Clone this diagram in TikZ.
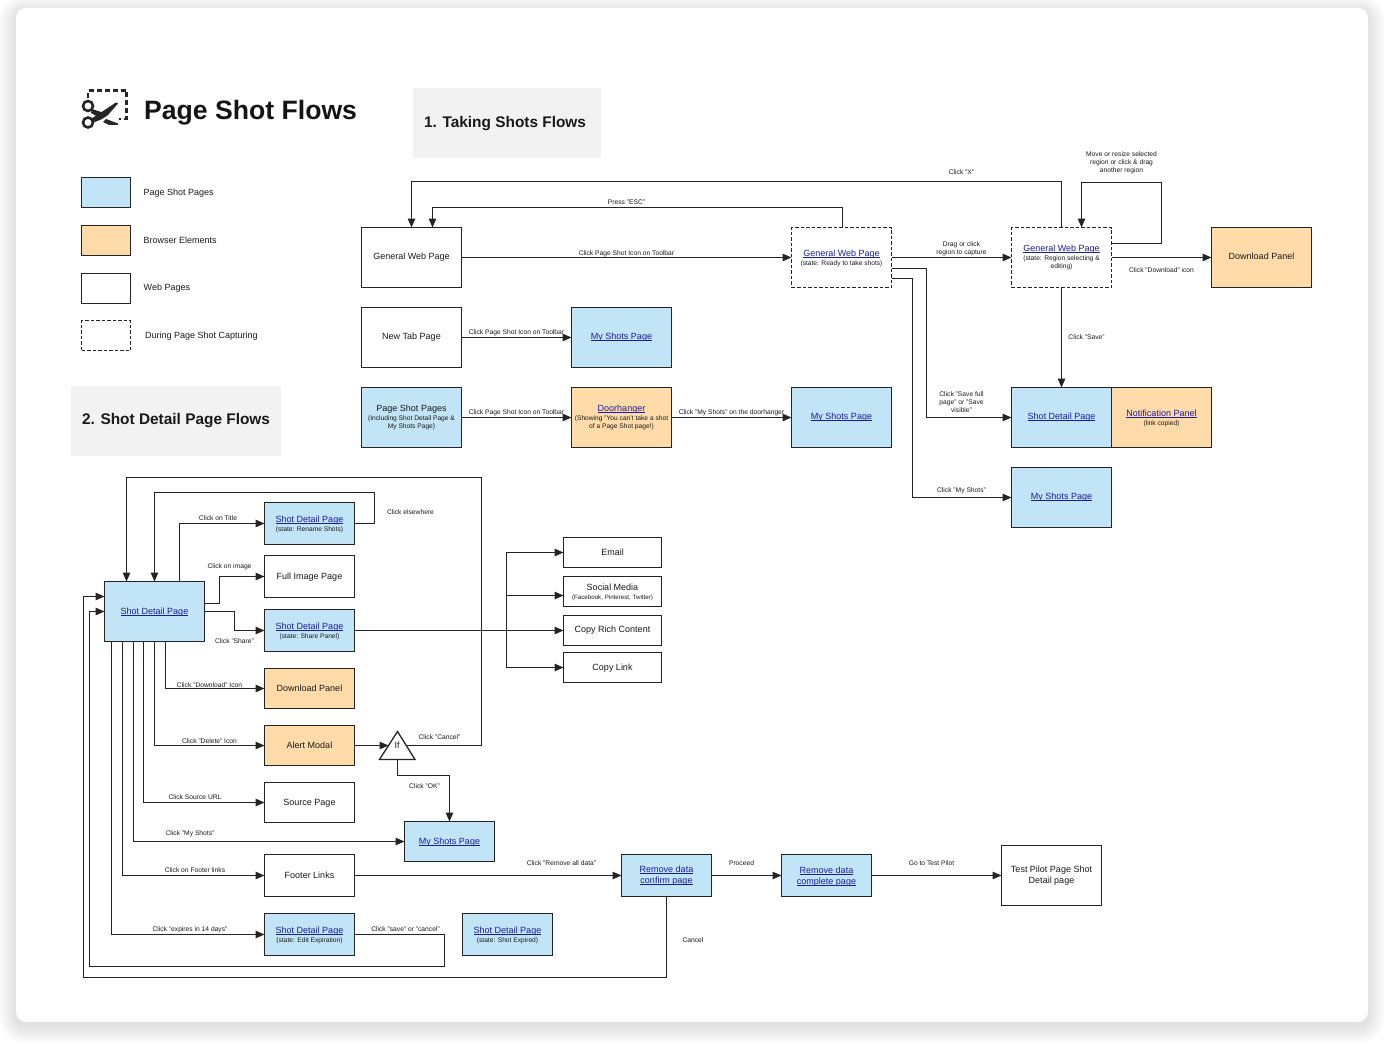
\documentclass[tikz,border=0pt]{standalone}
\usepackage{fontspec}
\setmainfont{Liberation Sans}
\usetikzlibrary{arrows.meta}
\definecolor{blueF}{HTML}{C1E4F7}
\definecolor{orangeF}{HTML}{FFDBA9}
\definecolor{panelF}{HTML}{F2F2F2}
\definecolor{lineC}{HTML}{242424}
\definecolor{txtC}{HTML}{1A1A1A}
\definecolor{linkC}{HTML}{1C1CA0}
\newsavebox\lnkbox
\newcommand\lnk[1]{\sbox\lnkbox{#1}\textcolor{linkC}{\rlap{\rule[-1.1pt]{\wd\lnkbox}{0.6pt}}#1}}
\newcommand\subt{\fontsize{6.65}{8.6}\selectfont}
\tikzset{
  x=1pt,y=-1pt,
  box/.style={draw=lineC,line width=1.4pt,inner sep=0pt,outer sep=0pt,align=center,text=txtC,font=\fontsize{9}{11}\selectfont},
  wh/.style 2 args={minimum width=#1 pt,minimum height=#2 pt},
  one/.style={text depth=3pt},
  onesm/.style={text depth=1pt},
  mid/.style={text depth=1.5pt},
  low/.style={text depth=0pt},
  bluebox/.style={box,fill=blueF},
  orangebox/.style={box,fill=orangeF},
  webbox/.style={box,fill=white},
  capbox/.style={box,fill=white,dash pattern=on 3.5pt off 2pt,line width=1.3pt},
  flow/.style={draw=lineC,line width=1.3pt,-{Triangle[length=9pt,width=7.5pt]}},
  lbl/.style={inner sep=0pt,outer sep=0pt,align=center,text=txtC,font=\fontsize{6.7}{8}\selectfont},
  legendtxt/.style={inner sep=0pt,anchor=west,text=txtC,font=\fontsize{9}{11}\selectfont},
  panel/.style={fill=panelF,draw=none,inner sep=0pt},
  paneltxt/.style={inner sep=0pt,font=\bfseries\fontsize{15.4}{19}\selectfont,text=black!90},
  iconline/.style={draw=black!85,line width=2.6pt},
}
\begin{document}
\begin{tikzpicture}
\useasboundingbox (0,0) rectangle (1384,1046);
\begin{scope}
\clip (0,0) rectangle (1384,1046);
\foreach \i in {1,...,15}{
  \fill[black,opacity=0.009,rounded corners={10pt+\i*1pt}] ({16-\i*1.15},{12-\i*1.15}) rectangle ({1368+\i*1.15},{1026+\i*1.15});
}
\fill[white,rounded corners=10pt] (16,8) rectangle (1368,1022);
\end{scope}

% title and icon
\node[inner sep=0pt,anchor=west,font=\bfseries\fontsize{26.6}{32}\selectfont,text=black!92] (title) at (144,113) {Page Shot Flows};
\draw[iconline,dash pattern=on 5pt off 3pt,line cap=butt] (88,98) -- (88,90.5) -- (126.5,90.5) -- (126.5,119) -- (119,119);
\draw[draw=black!85,line width=2.6pt,fill=white] (88,106) circle (5pt);
\draw[draw=black!85,line width=2.6pt,fill=white] (88,122.5) circle (5pt);
\fill[black!85] (91,119) -- (116,102.5) -- (118,103.5) -- (108,115) -- (102,119) -- (95,122) -- cycle;
\fill[black!85] (92,109) -- (104,113) -- (100,118) -- (91,113) -- cycle;
\fill[black!85] (106,119) -- (118,123.5) -- (118,125) -- (109,125) -- (103,122) -- cycle;

% panels
\node[panel,minimum width=188pt,minimum height=70pt] (panA) at (507,123) {};
\node[paneltxt] (panAt) at (505,123.5) {1. Taking Shots Flows};
\node[panel,minimum width=210pt,minimum height=70pt] (panB) at (176,421) {};
\node[paneltxt] (panBt) at (176,420.5) {2. Shot Detail Page Flows};

\begin{scope}[shift={(0.5,-0.5)}]
% legend
\node[bluebox,wh={49}{30}] (legA) at (105.5,193) {};
\node[orangebox,wh={49}{30}] (legB) at (105.5,241) {};
\node[webbox,wh={49}{30}] (legC) at (105.5,289) {};
\node[capbox,wh={49}{30}] (legD) at (105.5,336) {};

% section 1 nodes
\node[webbox,one,wh={100}{60}] (gen1) at (411,258) {General Web Page};
\node[capbox,low,wh={100}{60}] (gen2) at (841,258) {\lnk{General Web Page}\\[-1.5pt]\subt (state: Ready to take shots)};
\node[capbox,mid,wh={100}{60}] (gen3) at (1061,258) {\lnk{General Web Page}\\[-1.5pt]\subt (state: Region selecting \&\\[-3pt]\subt editing)};
\node[orangebox,one,wh={100}{60}] (dlA) at (1261,258) {Download Panel};
\node[webbox,one,wh={100}{60}] (newtab) at (411,338) {New Tab Page};
\node[bluebox,one,wh={100}{60}] (msA) at (621,338) {\lnk{My Shots Page}};
\node[bluebox,mid,wh={100}{60}] (psp) at (411,418) {Page Shot Pages\\[-1.5pt]\subt (Including Shot Detail Page \&\\[-3pt]\subt My Shots Page)};
\node[orangebox,mid,wh={100}{60}] (door) at (621,418) {\lnk{Doorhanger}\\[-1.5pt]\subt (Showing "You can't take a shot\\[-3pt]\subt of a Page Shot page!)};
\node[bluebox,one,wh={100}{60}] (msB) at (841,418) {\lnk{My Shots Page}};
\node[bluebox,one,wh={100}{60}] (sdA) at (1061,418) {\lnk{Shot Detail Page}};
\node[orangebox,low,wh={100}{60}] (notif) at (1161,418) {\lnk{Notification Panel}\\[-1.5pt]\subt (link copied)};
\node[bluebox,one,wh={100}{60}] (msC) at (1061,498) {\lnk{My Shots Page}};

% section 1 connectors
\draw[flow] (gen1.east) -- (gen2.west);
\draw[flow] (gen3.north) -- (1061,182) -- (411,182) -- (gen1.north);
\draw[flow] (842,0 |- gen2.north) -- (842,208) -- (432,208) -- (432,0 |- gen1.north);
\draw[flow] (gen2.east) -- (gen3.west);
\draw[flow] (0,244 -| gen3.east) -- (1161,244) -- (1161,183) -- (1081,183) -- (1081,0 |- gen3.north);
\draw[flow] (gen3.east) -- (dlA.west);
\draw[flow] (gen3.south) -- (sdA.north);
\draw[flow] (0,269 -| gen2.east) -- (926,269) -- (926,418) -- (sdA.west);
\draw[flow] (0,279 -| gen2.east) -- (912,279) -- (912,498) -- (msC.west);
\draw[flow] (newtab.east) -- (msA.west);
\draw[flow] (psp.east) -- (door.west);
\draw[flow] (door.east) -- (msB.west);

% section 2 nodes
\node[bluebox,onesm,wh={100}{60}] (sd) at (154,612) {\lnk{Shot Detail Page}};
\node[bluebox,low,wh={90}{42}] (rename) at (309,524) {\lnk{Shot Detail Page}\\[-2pt]\subt (state: Rename Shots)};
\node[webbox,onesm,wh={90}{42}] (full) at (309,577) {Full Image Page};
\node[bluebox,low,wh={90}{42}] (share) at (309,631) {\lnk{Shot Detail Page}\\[-2pt]\subt (state: Share Panel)};
\node[orangebox,onesm,wh={90}{40}] (dlB) at (309,689) {Download Panel};
\node[orangebox,onesm,wh={90}{40}] (alert) at (309,746) {Alert Modal};
\node[webbox,onesm,wh={90}{40}] (source) at (309,803) {Source Page};
\node[bluebox,low,wh={90}{40}] (msD) at (449,842) {\lnk{My Shots Page}};
\node[webbox,onesm,wh={90}{42}] (footer) at (309,876) {Footer Links};
\node[bluebox,low,wh={90}{42}] (edit) at (309,935) {\lnk{Shot Detail Page}\\[-2pt]\subt (state: Edit Expiration)};
\node[bluebox,low,wh={90}{42}] (expired) at (507,935) {\lnk{Shot Detail Page}\\[-2pt]\subt (state: Shot Expired)};
\node[webbox,onesm,wh={98}{30}] (email) at (612,553) {Email};
\node[webbox,low,wh={98}{30}] (social) at (612,592) {Social Media\\[-2pt]\fontsize{6.2}{7.5}\selectfont (Facebook, Pinterest, Twitter)};
\node[webbox,one,wh={98}{30}] (rich) at (612,631) {Copy Rich Content};
\node[webbox,onesm,wh={98}{30}] (clink) at (612,668) {Copy Link};
\node[bluebox,mid,wh={90}{42}] (confirm) at (666,876) {\lnk{Remove data}\\\lnk{confirm page}};
\node[bluebox,low,wh={90}{42}] (complete) at (826,876) {\lnk{Remove data}\\\lnk{complete page}};
\node[webbox,mid,wh={100}{60}] (pilot) at (1051,876) {Test Pilot Page Shot\\Detail page};
\coordinate (ifapex) at (397,732);
\coordinate (ifL) at (379,760);
\coordinate (ifR) at (414.5,760);
\draw[draw=lineC,line width=1.3pt,fill=white,line join=miter] (ifapex) -- (ifR) -- (ifL) -- cycle;
\coordinate (ifin) at (388,746);
\coordinate (ifout) at (405,746);
\coordinate (ifbot) at (397,760);
\coordinate (junc) at (506,631);

% section 2 connectors
\draw[flow] (alert.east) -- (ifin);
\draw[flow] (ifout) -- (481,746) -- (481,478) -- (126,478) -- (126,0 |- sd.north);
\draw[flow] (rename.east) -- (374,524) -- (374,493) -- (154,493) -- (sd.north);
\draw[flow] (179,0 |- sd.north) -- (179,524) -- (rename.west);
\draw[flow] (0,604 -| sd.east) -- (219,604) -- (219,577) -- (full.west);
\draw[flow] (0,612 -| sd.east) -- (234,612) -- (234,631) -- (share.west);
\draw[flow] (share.east) -- (rich.west);
\draw[flow] (junc) -- (506,553) -- (email.west);
\draw[flow] (506,596) -- (0,596 -| social.west);
\draw[flow] (junc) -- (506,668) -- (clink.west);
\draw[flow] (165,0 |- sd.south) -- (165,689) -- (dlB.west);
\draw[flow] (sd.south) -- (154,746) -- (alert.west);
\draw[flow] (143,0 |- sd.south) -- (143,803) -- (source.west);
\draw[flow] (133,0 |- sd.south) -- (133,842) -- (msD.west);
\draw[flow] (122,0 |- sd.south) -- (122,876) -- (footer.west);
\draw[flow] (111,0 |- sd.south) -- (111,935) -- (edit.west);
\draw[flow] (edit.east) -- (444,935) -- (444,967) -- (89,967) -- (89,612) -- (sd.west);
\draw[flow] (confirm.south) -- (666,978) -- (83,978) -- (83,597) -- (0,597 -| sd.west);
\draw[flow] (ifbot) -- (397,776) -- (449,776) -- (msD.north);
\draw[flow] (footer.east) -- (confirm.west);
\draw[flow] (confirm.east) -- (complete.west);
\draw[flow] (complete.east) -- (pilot.west);
\end{scope}

\begin{scope}[shift={(0.5,0.5)}]
% legend text
\node[legendtxt] (legAt) at (143,192.5) {Page Shot Pages};
\node[legendtxt] (legBt) at (143,240) {Browser Elements};
\node[legendtxt] (legCt) at (143,288) {Web Pages};
\node[legendtxt] (legDt) at (144.5,335.5) {During Page Shot Capturing};
\node[inner sep=0pt,text=txtC,font=\fontsize{9}{11}\selectfont] (ifn) at (396.5,744.5) {If};

% section 1 labels
\node[lbl] (t1) at (626,253) {Click Page Shot Icon on Toolbar};
\node[lbl] (t2) at (961,172) {Click "X"};
\node[lbl] (t3) at (626,202) {Press "ESC"};
\node[lbl] (t4) at (961,248) {Drag or click\\region to capture};
\node[lbl] (t5) at (1121,162.5) {Move or resize selected\\region or click \& drag\\another region};
\node[lbl] (t6) at (1161,269.5) {Click "Download" icon};
\node[lbl] (t7) at (1086,337) {Click "Save"};
\node[lbl] (t8) at (961,401.5) {Click "Save full\\page" or "Save\\visible"};
\node[lbl] (t9) at (961,490) {Click "My Shots"};
\node[lbl] (t10) at (516,332.5) {Click Page Shot Icon on Toolbar};
\node[lbl] (t11) at (516,412) {Click Page Shot Icon on Toolbar};
\node[lbl] (t12) at (731,412) {Click "My Shots" on the doorhanger};

% section 2 labels
\node[lbl] (s1) at (439,737) {Click "Cancel"};
\node[lbl] (s2) at (410,512) {Click elsewhere};
\node[lbl] (s3) at (217.5,518) {Click on Title};
\node[lbl] (s4) at (229,566) {Click on image};
\node[lbl] (s5) at (234,641) {Click "Share"};
\node[lbl] (s6) at (209,684.5) {Click "Download" Icon};
\node[lbl] (s7) at (209,741) {Click "Delete" Icon};
\node[lbl] (s8) at (194.5,796.5) {Click Source URL};
\node[lbl] (s9) at (189.5,833) {Click "My Shots"};
\node[lbl] (s10) at (194.5,870) {Click on Footer links};
\node[lbl] (s11) at (189.5,929) {Click "expires in 14 days"};
\node[lbl] (s12) at (405,929) {Click "save" or "cancel"};
\node[lbl] (s13) at (424,785.5) {Click "OK"};
\node[lbl] (s14) at (561,863) {Click "Remove all data"};
\node[lbl] (s15) at (741,863) {Proceed};
\node[lbl] (s16) at (931,863) {Go to Test Pilot};
\node[lbl] (s17) at (692.5,940) {Cancel};
\end{scope}
\end{tikzpicture}
\end{document}
